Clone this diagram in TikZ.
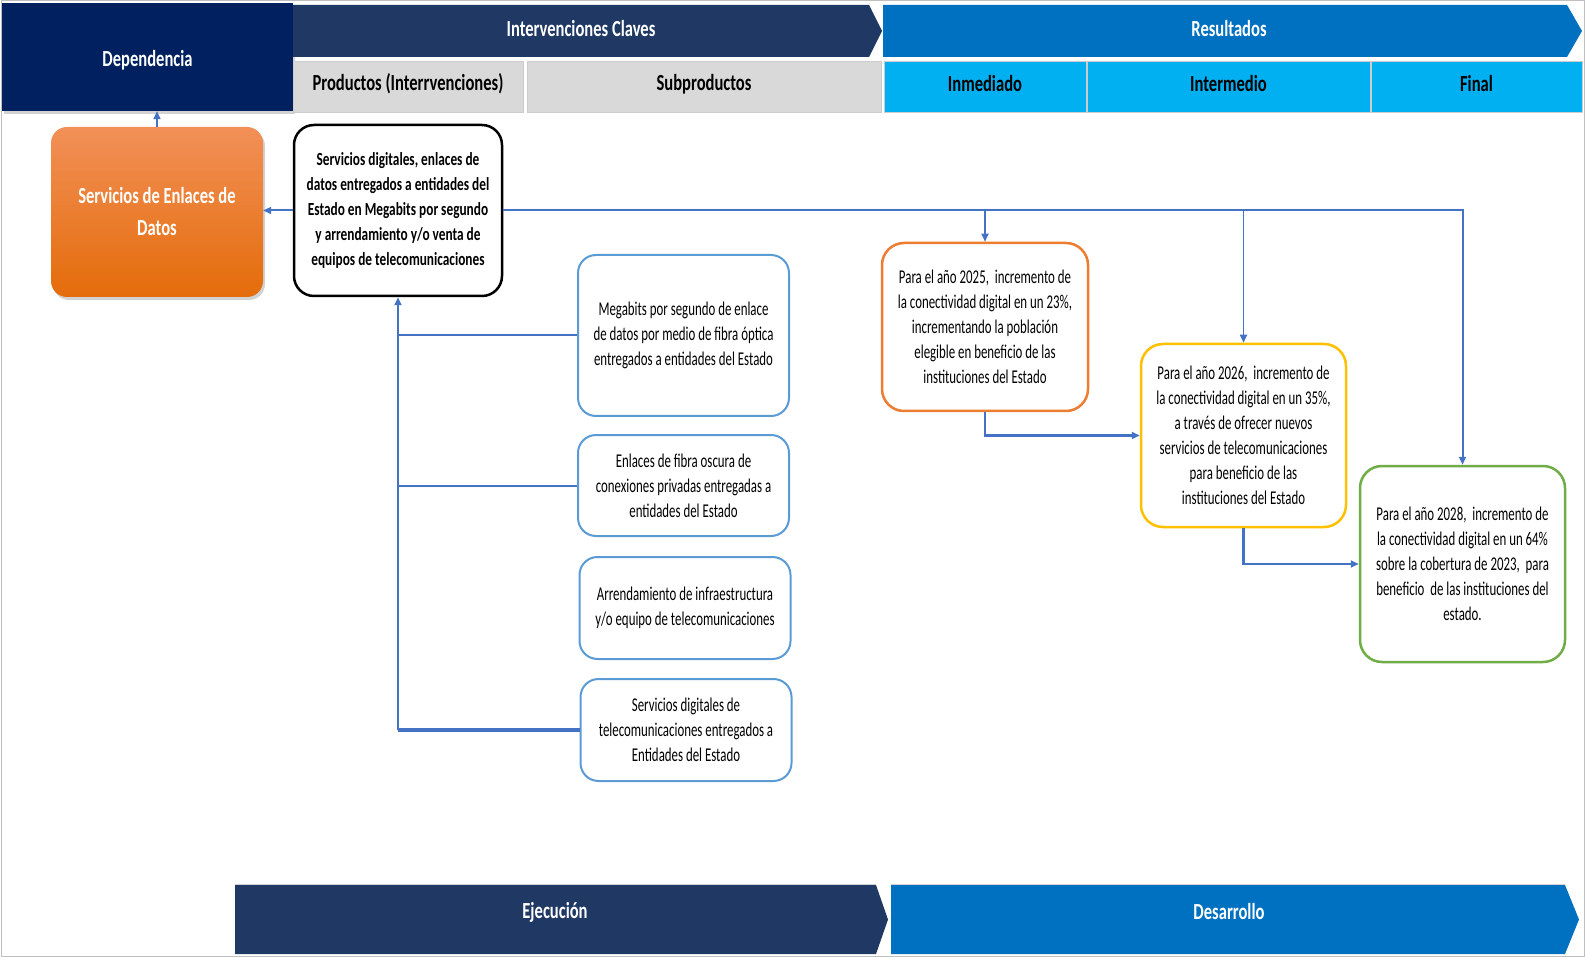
\documentclass[tikz,border=0pt]{standalone}
\usepackage{fontspec}
\usetikzlibrary{arrows.meta,shadows}
\newfontfamily\fA[FakeStretch=0.72]{Carlito}
\newfontfamily\fB[FakeStretch=0.66]{Carlito}
\definecolor{navy}{HTML}{002060}
\definecolor{dkblue}{HTML}{203864}
\definecolor{midblue}{HTML}{0070C0}
\definecolor{ltblue}{HTML}{00B0F0}
\definecolor{grayc}{HTML}{D9D9D9}
\definecolor{lineblue}{HTML}{4472C4}
\definecolor{boxblue}{HTML}{5B9BD5}
\definecolor{orB}{HTML}{ED7D31}
\definecolor{yeB}{HTML}{FFC000}
\definecolor{grB}{HTML}{70AD47}
\definecolor{orTop}{HTML}{F29058}
\definecolor{orBot}{HTML}{E46C0A}
\newcommand{\upby}[2]{\raisebox{#1}[\height][\depth]{#2}}
\begin{document}
\begin{tikzpicture}[x=1pt,y=-1pt,
  hdrtext/.style={text=white, inner sep=0pt, font=\fA\bfseries\fontsize{23}{28}\selectfont},
  cell/.style={draw=gray!40, line width=0.8pt, minimum height=51pt, inner sep=0pt,
    font=\fA\bfseries\fontsize{23}{28}\selectfont},
  conn/.style={draw=lineblue, line width=2pt},
  arr/.style={conn, -{Triangle[length=8pt,width=7pt]}},
  thinarr/.style={draw=lineblue, line width=1.6pt, -{Triangle[length=8pt,width=7pt]}},
  subbox/.style={draw=boxblue, line width=2pt, rounded corners=18pt, fill=white,
    minimum width=211pt, align=center, inner sep=0pt,
    font=\fB\fontsize{19.5}{25}\selectfont},
  resbox/.style={line width=2.5pt, rounded corners=22pt, fill=white,
    align=center, inner sep=0pt, font=\fB\fontsize{19.5}{25}\selectfont},
  shad/.style={drop shadow={shadow xshift=2pt, shadow yshift=-3pt, opacity=0.35}}
]
\useasboundingbox (0,0) rectangle (1585,957);
\fill[white] (0,0) rectangle (1585,957);
\draw[gray!50, line width=1pt] (1,1) rectangle (1584,956);

% header
\node[fill=navy, minimum width=291pt, minimum height=108pt, inner sep=0pt, shad,
  text=white, font=\fA\bfseries\fontsize{23}{28}\selectfont] (dep) at (147.5,57) {\upby{-3pt}{Dependencia}};
\fill[dkblue] (293,5) -- (869,5) -- (882,31) -- (869,57) -- (293,57) -- cycle;
\node[hdrtext] (ic) at (581,29) {Intervenciones Claves};
\fill[midblue] (883,5) -- (1567,5) -- (1582,31) -- (1567,57) -- (883,57) -- cycle;
\node[hdrtext] (resu) at (1229,29) {Resultados};

\node[cell, fill=grayc, minimum width=230pt] (prod) at (408,86.5) {\upby{2.5pt}{Productos (Interrvenciones)}};
\node[cell, fill=grayc, minimum width=354pt] (subp) at (704,86.5) {\upby{2.5pt}{Subproductos}};
\node[cell, fill=ltblue, minimum width=202pt] (inm) at (985,86.5) {\upby{2.5pt}{Inmediado}};
\node[cell, fill=ltblue, minimum width=283pt] (intm) at (1228.5,86.5) {\upby{2.5pt}{Intermedio}};
\node[cell, fill=ltblue, minimum width=211pt] (fin) at (1476.5,86.5) {\upby{2.5pt}{Final}};

% left
\node[rounded corners=16pt, top color=orTop, bottom color=orBot, minimum width=212pt,
  minimum height=170pt, inner sep=0pt, shad, align=center, text=white,
  font=\fA\bfseries\fontsize{23}{32}\selectfont] (sed) at (157,212) {Servicios de Enlaces de\\Datos};
\node[draw=black, line width=2.5pt, rounded corners=20pt, fill=white, minimum width=208pt,
  minimum height=171pt, inner sep=0pt, align=center,
  font=\fA\bfseries\fontsize{18.5}{25}\selectfont] (p1) at (398,210.5)
  {Servicios digitales, enlaces de\\datos entregados a entidades del\\Estado en Megabits por segundo\\y arrendamiento y/o venta de\\equipos de telecomunicaciones};

% subproducts
\node[subbox, minimum height=161pt] (s1) at (683.5,335.5)
  {Megabits por segundo de enlace\\de datos por medio de fibra óptica\\entregados a entidades del Estado};
\node[subbox, minimum height=101pt] (s2) at (683.5,485.5)
  {Enlaces de fibra oscura de\\conexiones privadas entregadas a\\entidades del Estado};
\node[subbox, minimum height=102pt] (s3) at (685,608)
  {Arrendamiento de infraestructura\\y/o equipo de telecomunicaciones};
\node[subbox, minimum height=102pt] (s4) at (686,730)
  {Servicios digitales de\\telecomunicaciones entregados a\\Entidades del Estado};

% results
\node[resbox, draw=orB, minimum width=206pt, minimum height=168pt] (r1) at (985,327)
  {Para el año 2025,~ incremento de\\la conectividad digital en un 23\%,\\incrementando la población\\elegible en beneficio de las\\instituciones del Estado};
\node[resbox, draw=yeB, minimum width=205pt, minimum height=183pt] (r2) at (1243.5,435.5)
  {Para el año 2026,~ incremento de\\la conectividad digital en un 35\%,\\a través de ofrecer nuevos\\servicios de telecomunicaciones\\para beneficio de las\\instituciones del Estado};
\node[resbox, draw=grB, minimum width=205pt, minimum height=196pt] (r3) at (1462.5,564)
  {Para el año 2028,~ incremento de\\la conectividad digital en un 64\%\\sobre la cobertura de 2023,~ para\\beneficio~ de las instituciones del\\estado.};

% connectors
\draw[arr] (p1.west) -- (sed.east |- p1.west);
\draw[thinarr] (sed.north) -- (sed.north |- dep.south);
\draw[arr] (p1.south |- s4.west) -- (p1.south);
\draw[conn] (p1.south |- s1.west) -- (s1.west);
\draw[conn] (p1.south |- s2.west) -- (s2.west);
\draw[conn, line width=3.5pt] (p1.south |- s4.west) -- (s4.west);
\draw[arr] (p1.east) -- (p1.east -| r3.north) -- (r3.north);
\draw[thinarr] (p1.east -| r1.north) -- (r1.north);
\draw[thinarr] (p1.east -| r2.north) -- (r2.north);
\draw[arr, line width=2.5pt] (r1.south) |- (r2.west);
\draw[arr, line width=2.5pt] (r2.south) |- (r3.west);

% bottom
\fill[dkblue] (235,885) -- (876,885) -- (888,919.5) -- (876,954) -- (235,954) -- cycle;
\draw[gray!35, line width=1pt] (235,884) -- (876,884);
\node[hdrtext] (eje) at (555,912) {Ejecución};
\fill[midblue] (891,885) -- (1565,885) -- (1579,919.5) -- (1565,954) -- (891,954) -- cycle;
\draw[gray!35, line width=1pt] (891,884) -- (1565,884);
\node[hdrtext] (des) at (1229,912) {Desarrollo};
\end{tikzpicture}
\end{document}
